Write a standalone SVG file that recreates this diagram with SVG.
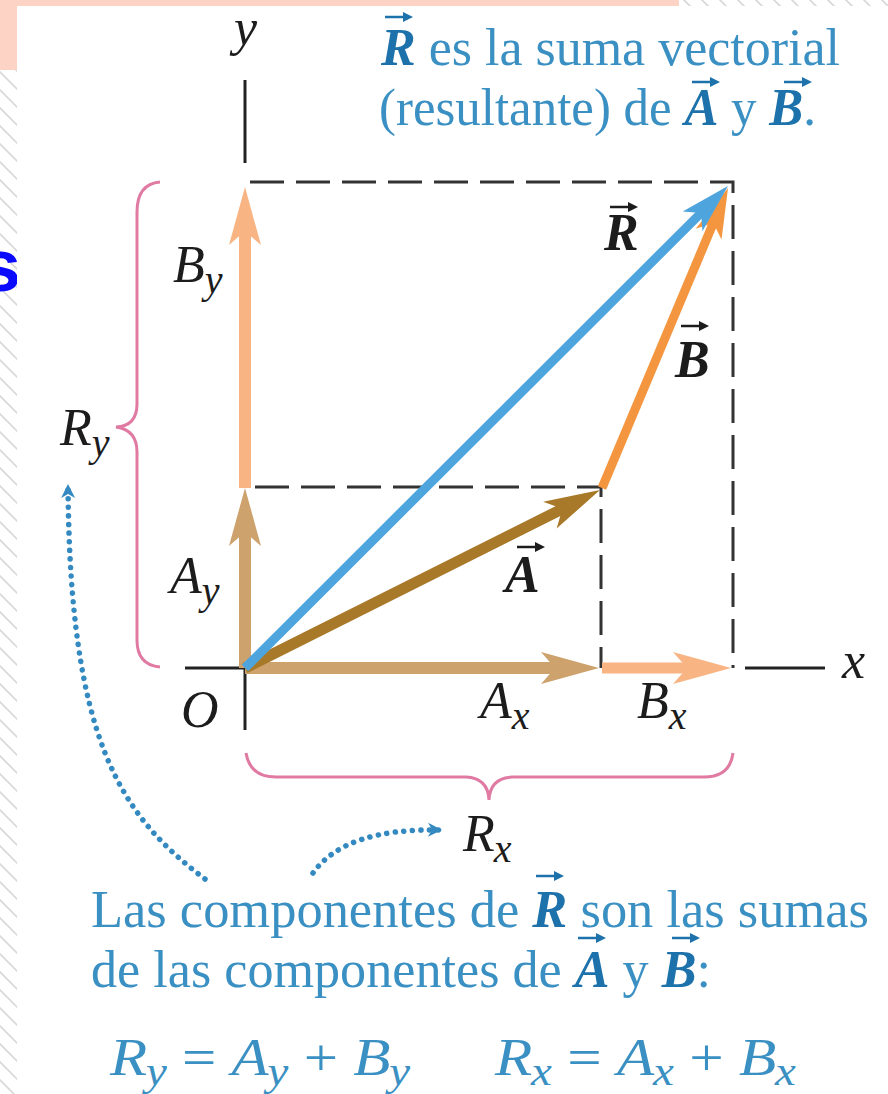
<svg xmlns="http://www.w3.org/2000/svg" width="888" height="1094" viewBox="0 0 888 1094">
<style>
.lab{font-family:"Liberation Serif","Times New Roman",serif;font-style:italic;font-size:52px;fill:#1c1c1c}
.vec{font-weight:bold}
.sub{font-size:40px}
.cap{font-family:"Liberation Serif","Times New Roman",serif;font-size:52px;fill:#3a90c2}
.capv{font-weight:bold;font-style:italic;fill:#1d72ab}
.eq{font-style:italic}
.up{font-style:normal}
.dash{fill:none;stroke:#333;stroke-width:3;stroke-dasharray:34 12}
.axis{fill:none;stroke:#222;stroke-width:3}
.brace{fill:none;stroke:#e07aa2;stroke-width:3}
.dots{fill:none;stroke:#3489c0;stroke-width:5.5;stroke-linecap:round;stroke-dasharray:0.1 8.5}
.ovk{fill:#1c1c1c;stroke:#1c1c1c}
.ovb{fill:#1d72ab;stroke:#1d72ab}
</style>
<defs>
<pattern id="hatch" patternUnits="userSpaceOnUse" width="18" height="18">
<path d="M-2,-2 L20,20 M-11,7 L2,20 M7,-11 L20,2" stroke="#d9d9d9" stroke-width="1.8"/>
</pattern>
<marker id="hTan" markerUnits="userSpaceOnUse" viewBox="-60 -18 62 36" markerWidth="62" markerHeight="36" refX="-26" refY="0" orient="auto" overflow="visible"><path d="M0,0 L-58,-16 L-44,0 L-58,16 Z" fill="#cda26d"/></marker>
<marker id="hLor" markerUnits="userSpaceOnUse" viewBox="-60 -18 62 36" markerWidth="62" markerHeight="36" refX="-26" refY="0" orient="auto" overflow="visible"><path d="M0,0 L-58,-16 L-44,0 L-58,16 Z" fill="#f8b483"/></marker>
<marker id="hA" markerUnits="userSpaceOnUse" viewBox="-60 -18 62 36" markerWidth="62" markerHeight="36" refX="-24" refY="0" orient="auto" overflow="visible"><path d="M0,0 L-56,-15 L-42,0 L-56,15 Z" fill="#a9792a"/></marker>
<marker id="hB" markerUnits="userSpaceOnUse" viewBox="-60 -18 62 36" markerWidth="62" markerHeight="36" refX="-22" refY="0" orient="auto" overflow="visible"><path d="M0,0 L-50,-14 L-38,0 L-50,14 Z" fill="#f4963f"/></marker>
<marker id="hR" markerUnits="userSpaceOnUse" viewBox="-60 -18 62 36" markerWidth="62" markerHeight="36" refX="-22" refY="0" orient="auto" overflow="visible"><path d="M0,0 L-50,-14 L-38,0 L-50,14 Z" fill="#4ea5de"/></marker>
<marker id="hDot" markerUnits="userSpaceOnUse" viewBox="-20 -10 22 20" markerWidth="22" markerHeight="20" refX="0" refY="0" orient="auto" overflow="visible"><path d="M2,0 L-12,-7 L-8,0 L-12,7 Z" fill="#3489c0"/></marker>
<g id="ov"><line x1="0" y1="0" x2="22" y2="0" stroke-width="2.5"/><path d="M18,-5 L28,0 L18,5 Z" stroke="none"/></g>
</defs>

<!-- page background -->
<rect x="0" y="0" width="888" height="1094" fill="#ffffff"/>
<rect x="0" y="0" width="888" height="1094" fill="url(#hatch)"/>
<text x="21" y="291" font-family="Liberation Sans, Arial, sans-serif" font-weight="bold" font-size="75" fill="#0a0aff" text-anchor="end">s</text>
<rect x="17" y="6" width="871" height="1088" fill="#ffffff"/>
<rect x="0" y="0" width="679" height="6" fill="#fcd3c5"/>
<rect x="0" y="0" width="17" height="70" fill="#fcd3c5"/>

<!-- axes and guide lines -->
<g id="axes">
<line class="axis" x1="245" y1="80" x2="245" y2="163"/>
<line class="axis" x1="245" y1="668" x2="245" y2="730"/>
<line class="axis" x1="185" y1="668" x2="245" y2="668"/>
<line class="axis" x1="745" y1="668" x2="825" y2="668"/>
<text class="lab" x="234" y="45">y</text>
<text class="lab" x="842" y="678">x</text>
<text class="lab" x="181" y="727">O</text>
</g>
<g id="guides">
<path class="dash" d="M250,182 H733 V668"/>
<path class="dash" d="M255,487 H601 V668"/>
</g>

<!-- braces -->
<g id="brace-ry">
<path class="brace" d="M160,182 Q137,184 137,212 L137,404 Q137,426 116,427 Q137,430 137,452 L137,640 Q137,665 160,667"/>
<text class="lab" x="60" y="445">R<tspan class="sub" dx="0" dy="11">y</tspan></text>
</g>
<g id="brace-rx">
<path class="brace" d="M246,753 Q250,777 276,777 L466,777 Q488,778 489,800 Q490,778 512,777 L704,777 Q730,777 733,753"/>
<text class="lab" x="463" y="851">R<tspan class="sub" dx="-1" dy="11">x</tspan></text>
</g>

<!-- connectors: vectors -->
<g id="connectors">
<line x1="245" y1="488" x2="245" y2="213" stroke="#f8b483" stroke-width="12" marker-end="url(#hLor)"/>
<line x1="602" y1="668" x2="705" y2="668" stroke="#f8b483" stroke-width="11" marker-end="url(#hLor)"/>
<line x1="245" y1="668" x2="245" y2="514" stroke="#cda26d" stroke-width="12" marker-end="url(#hTan)"/>
<line x1="245" y1="668" x2="573" y2="668" stroke="#cda26d" stroke-width="12" marker-end="url(#hTan)"/>
<line x1="602" y1="488" x2="719.5" y2="208.3" stroke="#f4963f" stroke-width="9" marker-end="url(#hB)"/>
<line x1="245" y1="668" x2="578.5" y2="500.8" stroke="#a9792a" stroke-width="11" marker-end="url(#hA)"/>
<line x1="245" y1="668" x2="712.4" y2="201.6" stroke="#4ea5de" stroke-width="9" marker-end="url(#hR)"/>
<path class="dots" d="M205,879 C120,815 70,740 68,486" marker-end="url(#hDot)"/>
<path class="dots" d="M313,873 Q345,828 440,830" marker-end="url(#hDot)"/>
</g>

<!-- vector and component labels -->
<g id="labels">
<text class="lab" x="173" y="282">B<tspan class="sub" dx="0" dy="11">y</tspan></text>
<text class="lab" x="170" y="593">A<tspan class="sub" dx="0" dy="11">y</tspan></text>
<text class="lab" x="480" y="718">A<tspan class="sub" dx="0" dy="11">x</tspan></text>
<text class="lab" x="637" y="718">B<tspan class="sub" dx="0" dy="11">x</tspan></text>
<text class="lab vec" x="604" y="250">R</text>
<use href="#ov" class="ovk" x="610" y="207"/>
<text class="lab vec" x="675" y="377">B</text>
<use href="#ov" class="ovk" x="681" y="326"/>
<text class="lab vec" x="505" y="592">A</text>
<use href="#ov" class="ovk" x="517" y="547"/>
</g>

<!-- caption top -->
<g id="caption-top">
<text class="cap" x="381" y="65" textLength="459" lengthAdjust="spacingAndGlyphs"><tspan class="capv">R</tspan> es la suma vectorial</text>
<use href="#ov" class="ovb" x="385" y="17"/>
<text class="cap" x="379" y="125" textLength="437" lengthAdjust="spacingAndGlyphs">(resultante) de <tspan class="capv">A</tspan> y <tspan class="capv">B</tspan>.</text>
<use href="#ov" class="ovb" x="692" y="82"/>
<use href="#ov" class="ovb" x="784" y="82"/>
</g>

<!-- caption bottom -->
<g id="caption-bottom">
<text class="cap" x="91" y="927" textLength="778" lengthAdjust="spacingAndGlyphs">Las componentes de <tspan class="capv">R</tspan> son las sumas</text>
<use href="#ov" class="ovb" x="536" y="876"/>
<text class="cap" x="91" y="987" textLength="620" lengthAdjust="spacingAndGlyphs">de las componentes de <tspan class="capv">A</tspan> y <tspan class="capv">B</tspan>:</text>
<use href="#ov" class="ovb" x="578" y="938"/>
<use href="#ov" class="ovb" x="672" y="938"/>
<text class="cap eq" x="110" y="1075" textLength="300" lengthAdjust="spacingAndGlyphs">R<tspan class="sub" dx="-1" dy="10">y</tspan><tspan class="up" dy="-10"> = </tspan>A<tspan class="sub" dx="-1" dy="10">y</tspan><tspan class="up" dy="-10"> + </tspan>B<tspan class="sub" dx="-1" dy="10">y</tspan></text>
<text class="cap eq" x="495" y="1075" textLength="301" lengthAdjust="spacingAndGlyphs">R<tspan class="sub" dx="-1" dy="10">x</tspan><tspan class="up" dy="-10"> = </tspan>A<tspan class="sub" dx="-1" dy="10">x</tspan><tspan class="up" dy="-10"> + </tspan>B<tspan class="sub" dx="-1" dy="10">x</tspan></text>
</g>
</svg>
